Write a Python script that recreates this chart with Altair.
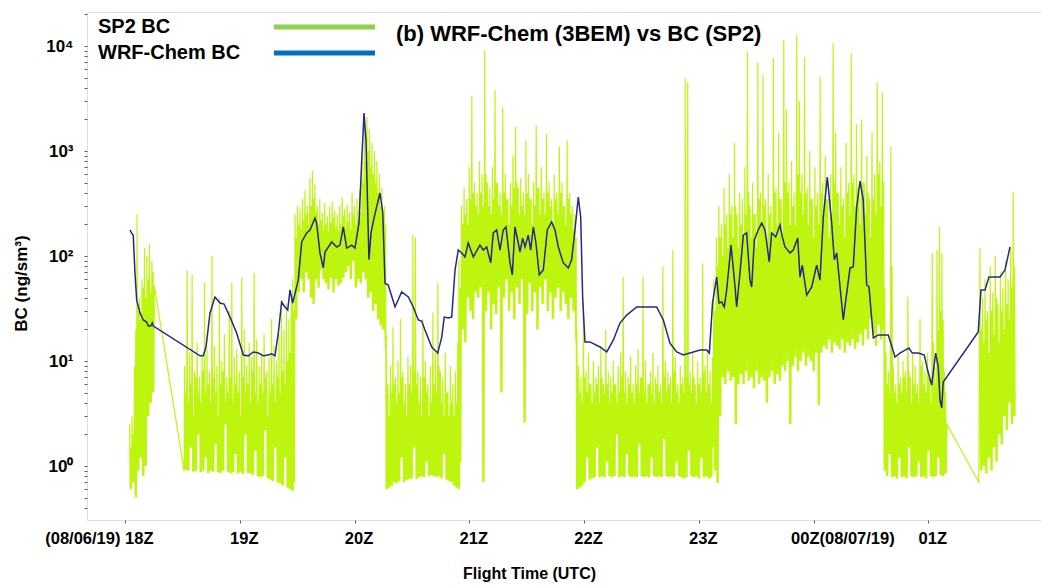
import altair as alt
import numpy as np
import pandas as pd

FONT = "Liberation Sans"

# ---------------- SP2 BC (ng/sm3) ----------------
# each segment: time range (UTC hours, 24 = 00Z next day); per step: peak (hi), trough (lo),
# top of the dense band (mid), trough again
seg_t = [(18.04, 18.235), (18.52, 19.45), (19.46, 20.26), (20.27, 20.90), (20.91, 21.92),
         (21.93, 23.12), (23.13, 24.60), (24.61, 25.14), (25.45, 25.74)]

hi1 = [2.5, 3, 9, 250, 40, 60, 120, 100, 130, 90]
mid1 = [1.5, 2, 20, 30, 25, 50, 40, 60, 45, 70]
lo1 = [0.6, 0.7, 0.5, 0.9, 1.2, 0.8, 1.0, 3, 4, 5]

hi2 = [9, 73, 12, 66, 8, 15, 7, 11, 56, 13, 8, 100, 14, 9, 40, 10, 18, 7, 30, 56, 11, 13, 8, 62, 20,
       9, 15, 11, 69, 16, 9, 12, 18, 8, 11, 25, 14, 10, 18, 30, 20, 35, 25, 40]
mid2 = [5, 4, 6, 3, 7, 5, 4, 8, 5, 6, 4, 7, 5, 3, 6, 8, 4, 5, 7, 4, 6, 5, 3, 7, 5, 6, 4, 8, 5, 4, 6,
        5, 7, 3, 5, 6, 4, 7, 5, 8, 6, 10, 12, 15]
lo2 = [0.92, 0.9, 1.5, 0.88, 0.9, 2.0, 0.87, 0.9, 1.2, 0.86, 0.9, 0.88, 1.6, 0.87, 0.86, 0.9, 2.5,
       0.88, 0.85, 0.87, 1.3, 0.85, 0.88, 0.84, 2.0, 0.86, 0.85, 0.82, 1.4, 0.8, 0.78, 0.8, 2.2,
       0.76, 0.74, 0.72, 1.5, 0.7, 0.68, 0.65, 1.2, 0.62, 0.6, 0.58]

hi3 = [60, 250, 300, 280, 350, 420, 300, 550, 650, 480, 300, 350, 260, 320, 240, 300, 330, 270, 250,
       300, 360, 280, 310, 260, 400, 300, 350, 420, 900, 1900, 2100, 1600, 1200, 1000, 800, 600, 450, 300]
mid3 = [30, 150, 200, 180, 220, 250, 200, 300, 350, 260, 200, 220, 180, 200, 170, 210, 230, 190, 170,
        200, 240, 190, 210, 180, 250, 200, 220, 260, 500, 800, 1000, 700, 600, 500, 400, 300, 250, 200]
lo3 = [0.7, 25, 45, 60, 45, 70, 60, 40, 35, 60, 50, 75, 60, 55, 48, 62, 45, 60, 52, 55, 62, 70, 80, 60,
       90, 50, 60, 55, 70, 60, 40, 45, 30, 35, 25, 22, 20, 18]

hi4 = [13, 6, 9, 21, 7, 10, 25, 8, 6, 11, 9, 158, 150, 8, 7, 25, 10, 6, 9, 29, 12, 55, 8, 7, 12, 5, 9,
       6, 8, 15]
mid4 = [4, 3, 5, 6, 4, 5, 7, 4, 3, 6, 5, 8, 6, 4, 3, 7, 5, 3, 4, 6, 5, 9, 4, 3, 5, 3, 4, 3, 4, 6]
lo4 = [0.6, 0.62, 0.65, 0.7, 0.68, 0.72, 1.2, 0.7, 0.74, 0.75, 0.76, 1.5, 0.75, 0.78, 0.8, 0.78, 1.1,
       0.8, 0.82, 0.8, 0.78, 0.8, 0.76, 1.3, 0.74, 0.72, 0.7, 0.65, 0.62, 0.6]

hi5 = [90, 300, 450, 350, 700, 3300, 500, 400, 800, 600, 9100, 500, 450, 700, 3800, 500, 400, 2600,
       600, 350, 500, 900, 1700, 450, 550, 400, 1260, 600, 350, 500, 1770, 450, 700, 400, 1460, 500,
       350, 600, 400, 1100, 500, 300, 1260, 400, 300, 250]
mid5 = [50, 200, 250, 200, 350, 400, 300, 250, 400, 300, 600, 300, 250, 350, 500, 300, 250, 400, 350,
        200, 300, 450, 500, 250, 300, 250, 400, 350, 200, 300, 450, 250, 350, 250, 400, 300, 200, 350,
        250, 400, 300, 200, 350, 250, 180, 150]
lo5 = [1.1, 20, 15, 40, 30, 25, 45, 40, 50, 0.7, 30, 45, 20, 35, 28, 50, 5, 40, 60, 30, 45, 25, 50,
       35, 60, 2.6, 28, 55, 30, 45, 20, 50, 35, 60, 30, 45, 25, 40, 50, 30, 45, 35, 25, 40, 30, 20]

hi6 = [15, 9, 7, 36, 8, 12, 6, 10, 7, 9, 14, 6, 20, 8, 7, 10, 6, 9, 12, 63, 8, 7, 11, 6, 9, 13, 7, 63,
       10, 6, 8, 12, 7, 9, 6, 79, 10, 8, 7, 114, 11, 6, 9, 7, 5000, 4500, 8, 12, 6, 10, 7, 85, 9, 13,
       8, 11]
mid6 = [6, 5, 4, 7, 5, 6, 4, 5, 6, 4, 7, 5, 6, 4, 5, 6, 4, 5, 7, 5, 4, 6, 5, 4, 6, 5, 7, 5, 4, 6, 5,
        4, 6, 5, 4, 7, 5, 6, 4, 8, 5, 4, 6, 5, 7, 6, 5, 7, 4, 6, 5, 8, 5, 6, 4, 6]
lo6 = [0.6, 0.62, 0.65, 0.7, 1.2, 0.74, 0.76, 0.78, 1.5, 0.78, 0.8, 0.78, 1.1, 0.8, 0.78, 0.8, 2.0,
       0.78, 0.8, 0.78, 1.3, 0.8, 0.78, 0.8, 0.78, 1.6, 0.8, 0.78, 0.8, 0.78, 1.2, 0.8, 0.78, 0.8,
       0.78, 1.8, 0.8, 0.78, 0.8, 0.78, 1.1, 0.8, 0.78, 0.76, 0.78, 1.4, 0.8, 0.78, 0.8, 0.76, 1.2,
       0.78, 0.8, 0.76, 0.78, 1.5]

hi7 = [60, 150, 300, 200, 450, 250, 600, 300, 1200, 250, 400, 350, 700, 8800, 300, 500, 250, 7000,
       400, 5300, 350, 600, 300, 7700, 450, 1500, 350, 11500, 2500, 500, 800, 400, 12700, 3000, 600,
       7800, 450, 1000, 350, 700, 400, 5100, 500, 900, 350, 600, 10600, 1500, 400, 700, 350, 1200,
       500, 8500, 600, 1800, 400, 2000, 500, 900, 350, 1500, 600, 4500, 800, 3600]
mid7 = [30, 80, 150, 100, 200, 120, 250, 150, 300, 120, 200, 150, 250, 400, 150, 250, 120, 350, 200,
        300, 150, 250, 150, 400, 200, 350, 150, 500, 400, 200, 300, 200, 600, 400, 250, 400, 200, 350,
        150, 300, 200, 400, 250, 350, 150, 250, 500, 400, 200, 300, 150, 400, 250, 500, 300, 450, 200,
        500, 250, 400, 150, 350, 250, 600, 300, 500]
lo7 = [0.9, 0.69, 3, 7, 6, 8, 6.5, 7, 2.5, 6, 7.5, 6, 8, 6.5, 7, 5.5, 8, 6, 7, 6.5, 4, 7, 8, 6, 7.5,
       6.5, 9, 8, 10, 2.5, 9, 11, 8, 10, 12, 9, 11, 10, 8, 12, 3.8, 12, 14, 13, 16, 12, 15, 14, 13,
       16, 12, 15, 14, 16, 13, 15, 18, 14, 20, 16, 25, 18, 14, 22, 16, 20]

hi8 = [500, 12, 8, 1100, 9, 6, 11, 7, 10, 8, 41, 7, 12, 9, 6, 25, 10, 8, 12, 7, 106, 9, 114, 190, 106, 8]
mid8 = [50, 6, 5, 80, 5, 4, 6, 5, 7, 5, 8, 4, 6, 5, 4, 9, 6, 5, 7, 4, 15, 6, 20, 30, 25, 5]
lo8 = [0.9, 0.8, 1.3, 0.78, 0.8, 0.76, 1.2, 0.78, 0.8, 0.77, 1.5, 0.8, 0.78, 0.8, 1.1, 0.78, 0.8,
       0.76, 1.4, 0.8, 0.78, 0.8, 1.2, 0.82, 0.8, 0.85]

hi9 = [119, 40, 60, 30, 80, 45, 100, 35, 70, 50, 90, 60, 120, 410]
mid9 = [20, 15, 25, 12, 30, 18, 40, 15, 30, 20, 35, 25, 50, 80]
lo9 = [0.9, 1.0, 0.85, 1.2, 0.9, 1.5, 1.1, 2, 1.6, 3, 2.2, 4, 2.5, 3]

sp2_hi = [hi1, hi2, hi3, hi4, hi5, hi6, hi7, hi8, hi9]
sp2_mid = [mid1, mid2, mid3, mid4, mid5, mid6, mid7, mid8, mid9]
sp2_lo = [lo1, lo2, lo3, lo4, lo5, lo6, lo7, lo8, lo9]

# straight joins across data gaps
sp2_gap_t = [18.256, 18.515, 25.162, 25.44]
sp2_gap_v = [52, 0.9, 2.5, 0.7]

# ---------------- WRF-Chem BC (ng/sm3) ----------------
wrf_t = [18.044, 18.058, 18.072, 18.087, 18.102, 18.131, 18.159, 18.189, 18.203, 18.224, 18.238,
         18.247, 18.654, 18.682, 18.706, 18.741, 18.784, 18.828, 18.863, 18.915, 18.973, 19.031,
         19.074, 19.118, 19.162, 19.205, 19.249, 19.278, 19.307, 19.336, 19.365, 19.394, 19.418,
         19.438, 19.461, 19.51, 19.54, 19.583, 19.612, 19.656, 19.67, 19.699, 19.728, 19.743,
         19.766, 19.801, 19.845, 19.873, 19.902, 19.932, 19.975, 20.004, 20.039, 20.063, 20.083,
         20.1, 20.126, 20.144, 20.172, 20.222, 20.246, 20.266, 20.294, 20.353, 20.411, 20.469,
         20.512, 20.556, 20.585, 20.614, 20.673, 20.725, 20.76, 20.782, 20.817, 20.847, 20.876,
         20.904, 20.934, 20.963, 20.991, 21.035, 21.093, 21.122, 21.152, 21.187, 21.209, 21.239,
         21.268, 21.296, 21.32, 21.355, 21.375, 21.398, 21.427, 21.442, 21.465, 21.486, 21.514,
         21.535, 21.558, 21.581, 21.61, 21.645, 21.68, 21.718, 21.747, 21.776, 21.819, 21.863,
         21.892, 21.921, 21.95, 21.971, 21.988, 22.008, 22.052, 22.139, 22.198, 22.255, 22.313,
         22.372, 22.459, 22.575, 22.633, 22.691, 22.749, 22.807, 22.865, 22.952, 23.011, 23.069,
         23.092, 23.12, 23.156, 23.176, 23.2, 23.222, 23.243, 23.281, 23.316, 23.33, 23.359,
         23.388, 23.417, 23.446, 23.461, 23.484, 23.518, 23.548, 23.577, 23.614, 23.635, 23.67,
         23.708, 23.728, 23.751, 23.795, 23.823, 23.862, 23.882, 23.902, 23.94, 23.984, 24.027,
         24.056, 24.085, 24.12, 24.158, 24.181, 24.202, 24.231, 24.259, 24.289, 24.318, 24.346,
         24.376, 24.405, 24.433, 24.463, 24.483, 24.521, 24.564, 24.651, 24.71, 24.753, 24.797,
         24.832, 24.86, 24.913, 24.965, 24.994, 25.029, 25.064, 25.087, 25.102, 25.117, 25.13,
         25.435, 25.459, 25.494, 25.529, 25.581, 25.625, 25.668, 25.712]
wrf_v = [177, 165, 158, 69, 38, 28.7, 24.6, 23.5, 21.5, 21.5, 23, 21.5, 11.2, 11.2, 13.6, 28.7,
         40.7, 35.7, 34.9, 26.2, 18.5, 11.4, 11.2, 12.2, 11.9, 11.2, 11.4, 11.7, 11.2, 18.5, 36.5,
         32.7, 30.6, 47.5, 35.7, 59, 136, 166, 177, 230, 206, 107, 77, 109, 119, 136, 122, 127,
         189, 119, 127, 119, 206, 820, 2300, 1270, 92, 166, 235, 398, 262, 55, 53, 32.7, 45.4,
         40.7, 32.7, 24.6, 24, 19.7, 13.6, 11.9, 16.9, 26.2, 25.7, 26.2, 73.5, 114, 107, 98, 133,
         98, 127, 114, 122, 86, 166, 177, 114, 177, 189, 86, 66, 189, 133, 109, 148, 122, 158,
         114, 189, 133, 66, 73.5, 177, 211, 177, 122, 86, 77, 92, 177, 365, 235, 40.7, 15.2,
         15.2, 13.6, 12.2, 15.8, 23, 27.4, 32.7, 32.7, 32.7, 24.6, 14.8, 12.2, 11.4, 12.2, 12.7,
         12.7, 11.9, 36, 63, 35.7, 36.5, 32.7, 47.5, 127, 50.7, 32.7, 69, 158, 166, 59, 50.7,
         142, 177, 206, 177, 88, 166, 152, 197, 152, 122, 107, 114, 148, 63, 82, 42.5, 50.7, 82,
         59, 235, 565, 206, 92, 107, 50.7, 24.6, 44.4, 77, 78.6, 293, 518, 341, 53, 50.7, 16.6,
         17.7, 17.7, 10.9, 11.9, 12.7, 13.3, 11.9, 11.9, 11.4, 8.2, 5.9, 11.9, 8.8, 4.25, 3.57,
         6.3, 18.9, 47.5, 47.5, 63, 63, 63, 73.5, 122]

# ---------------- axis text ----------------
x_tick_vals = [18, 19, 20, 21, 22, 23, 24, 25]
x_tick_text = ["(08/06/19) 18Z", "19Z", "20Z", "21Z", "22Z", "23Z", "00Z(08/07/19)", "01Z"]
y_dec_vals = [1, 10, 100, 1000, 10000]
y_dec_text = ["10\u2070", "10\u00b9", "10\u00b2", "10\u00b3", "10\u2074"]
series_names = ["SP2 BC", "WRF-Chem BC"]

# ---------------- build tables ----------------
rows_t, rows_v = [], []
for (t0, t1), hi, mid, lo in zip(seg_t, sp2_hi, sp2_mid, sp2_lo):
    n = min(len(hi), len(mid), len(lo))
    ts = np.linspace(t0, t1, n)
    step = (t1 - t0) / (n - 1)
    for i in range(n):
        rows_t += [ts[i], ts[i] + step / 4, ts[i] + step / 2, ts[i] + 3 * step / 4]
        rows_v += [hi[i], lo[i], mid[i], lo[i]]
rows_t += sp2_gap_t
rows_v += sp2_gap_v
sp2 = pd.DataFrame({"t": rows_t, "v": rows_v}).sort_values("t")
wrf = pd.DataFrame({"t": wrf_t, "v": wrf_v})

x_domain = [17.669, 25.982]
y_domain = [0.306, 21090]

y_minor = [k * 10.0 ** e for e in range(-1, 5) for k in range(1, 10)]
y_minor = [round(v, 6) for v in y_minor if y_domain[0] <= v <= y_domain[1]]

x_label_expr = " : ".join(
    f"datum.value == {v} ? '{s}'" for v, s in zip(x_tick_vals, x_tick_text)) + " : ''"
y_label_expr = " : ".join(
    f"datum.value == {v} ? '{s}'" for v, s in zip(y_dec_vals, y_dec_text)) + " : ''"

x_enc = alt.X(
    "t:Q",
    scale=alt.Scale(domain=x_domain, nice=False, zero=False),
    axis=alt.Axis(
        values=x_tick_vals, labelExpr=x_label_expr, title="Flight Time (UTC)",
        grid=False, domain=False, tickSize=3, tickColor="#595959",
        labelFont=FONT, labelFontSize=16.5, labelFontWeight="bold", labelColor="black",
        labelPadding=7, labelBaseline="top", labelOverlap=False, labelFlush=False,
        labelAlign={"condition": [{"test": "datum.value == 18", "value": "right"},
                                  {"test": "datum.value == 24", "value": "left"}],
                    "value": "center"},
        labelOffset={"condition": [{"test": "datum.value == 18", "value": 28},
                                   {"test": "datum.value == 24", "value": -23}],
                     "value": 4},
        titleFont=FONT, titleFontSize=16, titleFontWeight="bold", titleColor="black",
        titleX=442, titleY=58, titleBaseline="alphabetic", titleAlign="center",
    ),
)
y_enc = alt.Y(
    "v:Q",
    scale=alt.Scale(type="log", domain=y_domain, nice=False),
    axis=alt.Axis(
        values=y_minor, labelExpr=y_label_expr, title="BC (ng/sm\u00b3)",
        grid=False, domain=False, tickSize=3, tickColor="#595959",
        labelFont=FONT, labelFontSize=17, labelFontWeight="bold", labelColor="black",
        labelPadding=11, labelOverlap=False, labelFlush=False,
        titleFont=FONT, titleFontSize=17, titleFontWeight="bold", titleColor="black",
        titleX=-61, titleY=271, titleBaseline="alphabetic", titleAlign="center",
    ),
)

sp2_line = alt.Chart(sp2).mark_line(color="#BEF50F", strokeWidth=1.2, clip=True).encode(
    x=x_enc, y=y_enc, order="t:Q")
wrf_line = alt.Chart(wrf).mark_line(color="#26268C", strokeWidth=1.5, clip=True).encode(
    x=x_enc, y=y_enc)


def legend_layer(name, color, ly):
    df = pd.DataFrame({"t": [20.0], "v": [1.0], "s": [name]})
    return alt.Chart(df).mark_line(opacity=0).encode(
        x=x_enc, y=y_enc,
        color=alt.Color("s:N", scale=alt.Scale(domain=[name], range=[color]),
                        legend=alt.Legend(
                            title=None, orient="none", legendX=184.5, legendY=ly,
                            symbolType="stroke", symbolSize=10201, symbolStrokeWidth=5,
                            symbolOpacity=1, labelOffset={"expr": "-279.5"},
                            labelFont=FONT, labelFontSize=20, labelFontWeight="bold",
                            labelColor="black", padding=0)))


leg1 = legend_layer(series_names[0], "#92D050", -38)
leg2 = legend_layer(series_names[1], "#0070C0", -12)

chart = alt.layer(sp2_line, wrf_line, leg1, leg2).resolve_scale(color="independent").properties(
    width=954, height=508,
    autosize=alt.AutoSizeParams(type="none"),
    padding={"left": 87, "top": 12, "right": 0, "bottom": 65},
    title=alt.TitleParams(
        "(b) WRF-Chem (3BEM) vs BC (SP2)", anchor="start", frame="group", orient="top",
        dx=309, dy=72, offset=0, baseline="top",
        font=FONT, fontSize=22, fontWeight="bold", color="black"),
).configure_view(stroke="#595959", strokeWidth=1.3).configure(background="white")

chart.save("out.html", embed_options={"renderer": "svg", "actions": False})
